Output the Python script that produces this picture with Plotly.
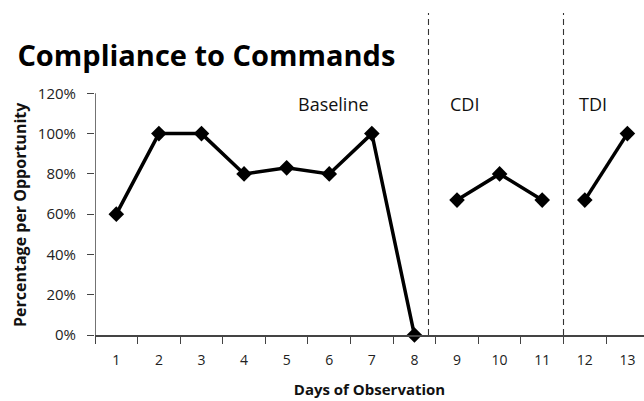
import plotly.graph_objects as go

# Session data: percentage of commands complied with per observation day
days = [str(d) for d in range(1, 14)]
baseline = [0.60, 1.00, 1.00, 0.80, 0.83, 0.80, 1.00, 0.00]
cdi = [0.67, 0.80, 0.67]
tdi = [0.67, 1.00]
phase_labels = ["Baseline", "CDI", "TDI"]
phase_label_days = [6.09, 9.18, 12.20]   # horizontal centre of each phase label (day units)
phase_breaks = [8.33, 11.5]              # phase-change lines (day units)
y_ticks = [0, 0.2, 0.4, 0.6, 0.8, 1.0, 1.2]

# One series with gaps between phases
values = baseline + [None] + cdi + [None] + tdi
x_vals = days[:8] + [None] + days[8:11] + [None] + days[11:]

FONT = "Open Sans"

fig = go.Figure()
fig.add_trace(go.Scatter(
    x=x_vals, y=values, mode="lines+markers",
    connectgaps=False,
    line=dict(color="black", width=3.5),
    marker=dict(symbol="diamond", size=12, color="black"),
    showlegend=False,
    cliponaxis=False,
))

# Dashed phase-change lines
for b in phase_breaks:
    fig.add_shape(type="line", xref="x", yref="y",
                  x0=b - 1, x1=b - 1, y0=0, y1=1.6,
                  line=dict(color="#333", width=1.1, dash="6px,4px"))

# y-axis line only up to the top tick
fig.add_shape(type="line", xref="x", yref="y",
              x0=-0.5, x1=-0.5, y0=0, y1=y_ticks[-1],
              line=dict(color="#444", width=1.5))

for lbl, d in zip(phase_labels, phase_label_days):
    fig.add_annotation(x=d - 1, y=1.147, xref="x", yref="y",
                       text=lbl, showarrow=False, xanchor="center", yanchor="middle",
                       font=dict(family=FONT, size=18, color="#111"))

# y-axis title, centred on the 0–120% span of the axis
fig.add_annotation(x=-0.137, y=y_ticks[-1] / 2, xref="paper", yref="y",
                   text="<b>Percentage per Opportunity</b>", textangle=-90,
                   showarrow=False, xanchor="center", yanchor="middle",
                   font=dict(family=FONT, size=16, color="#111"))

fig.update_layout(
    width=644, height=401,
    margin=dict(l=95, r=0, t=13, b=66),
    plot_bgcolor="white", paper_bgcolor="white",
    title=dict(text="<b>Compliance to Commands</b>", x=0.027, xanchor="left",
               y=0.86, yanchor="middle",
               font=dict(family=FONT, size=29, color="black")),
    font=dict(family=FONT, color="#222"),
)

fig.update_xaxes(
    type="category", categoryorder="array", categoryarray=days,
    range=[-0.5, 12.39],
    tickson="boundaries", ticks="outside", ticklen=7, tickwidth=1.3, tickcolor="#444",
    showline=True, linecolor="#444", linewidth=1.5,
    showgrid=False, zeroline=False,
    tickfont=dict(family=FONT, size=14, color="#222"),
    ticklabelstandoff=11,
    title=dict(text="<b>Days of Observation</b>", font=dict(family=FONT, size=15, color="#111"),
               standoff=17),
)

fig.update_yaxes(
    range=[0, 1.599],
    tickvals=y_ticks, tickformat=".0%",
    ticks="outside", ticklen=7, tickwidth=1.3, tickcolor="#444",
    showline=False, showgrid=False, zeroline=False,
    tickfont=dict(family=FONT, size=15, color="#222"),
    ticklabelstandoff=8,
)

fig.write_html("out.html")
